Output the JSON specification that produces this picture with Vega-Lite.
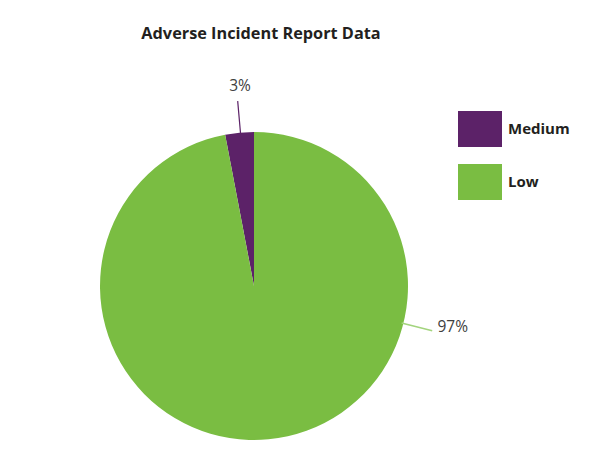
{
  "$schema": "https://vega.github.io/schema/vega-lite/v6.json",
  "width": 308,
  "height": 308,
  "autosize": {"type": "none"},
  "padding": {"left": 100, "top": 132, "right": 203, "bottom": 17},
  "background": "white",
  "view": {"stroke": null},
  "title": {
    "text": "Adverse Incident Report Data",
    "font": "Open Sans",
    "fontSize": 16.3,
    "fontWeight": "bold",
    "color": "#231f20",
    "anchor": "middle",
    "dx": 7,
    "offset": 37
  },
  "data": {
    "values": [
      {"category": "Medium", "value": 0.03},
      {"category": "Low", "value": 0.97}
    ]
  },
  "layer": [
    {
      "mark": {"type": "arc", "outerRadius": 154},
      "encoding": {
        "theta": {"field": "value", "type": "quantitative", "stack": true},
        "color": {
          "field": "category",
          "type": "nominal",
          "scale": {"domain": ["Medium", "Low"], "range": ["#5c2268", "#7abd42"]},
          "legend": {
            "title": null,
            "orient": "none",
            "legendX": 358,
            "legendY": -25,
            "symbolType": "M-1,-0.818H1V0.818H-1Z",
            "symbolSize": 1936,
            "symbolStrokeWidth": 0,
            "symbolOpacity": 1,
            "labelFont": "Open Sans",
            "labelFontSize": 15,
            "labelFontWeight": "bold",
            "labelColor": "#231f20",
            "labelOffset": 6,
            "rowPadding": 13
          }
        },
        "order": {"field": "category", "sort": "ascending"}
      }
    },
    {
      "transform": [{"filter": "datum.category === 'Medium'"}],
      "mark": {"type": "arc", "theta": -0.088, "theta2": -0.0879, "radius": 185, "radius2": 153, "stroke": "#5c2268", "strokeWidth": 1.2, "fill": null},
      "encoding": {}
    },
    {
      "transform": [{"filter": "datum.category === 'Low'"}],
      "mark": {"type": "arc", "theta": 1.817, "theta2": 1.8171, "radius": 183, "radius2": 153, "stroke": "#a3d47e", "strokeWidth": 1.5, "fill": null},
      "encoding": {}
    },
    {
      "transform": [{"filter": "datum.category === 'Medium'"}],
      "mark": {"type": "text", "theta": -0.07, "radius": 200, "align": "center", "baseline": "middle", "font": "Open Sans", "fontSize": 15.5, "color": "#404040"},
      "encoding": {"text": {"field": "value", "type": "quantitative", "format": ".0%"}}
    },
    {
      "transform": [{"filter": "datum.category === 'Low'"}],
      "mark": {"type": "text", "theta": 1.79, "radius": 188, "align": "left", "baseline": "middle", "font": "Open Sans", "fontSize": 15.5, "color": "#404040"},
      "encoding": {"text": {"field": "value", "type": "quantitative", "format": ".0%"}}
    }
  ]
}
